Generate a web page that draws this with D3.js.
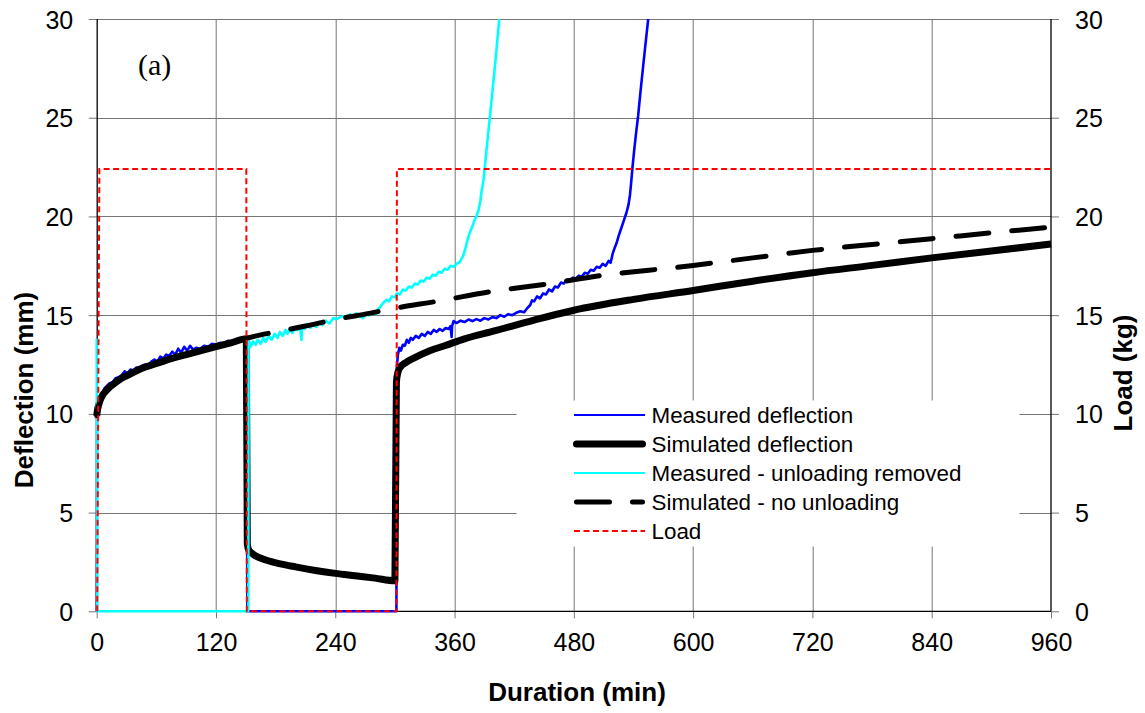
<!DOCTYPE html>
<html>
<head>
<meta charset="utf-8">
<script src="https://cdn.jsdelivr.net/npm/d3@7"></script>
<style>
  html, body { margin: 0; padding: 0; background: #fff; }
  svg { display: block; font-family: "Liberation Sans", Arial, sans-serif; }
</style>
</head>
<body>
<div id="chart"></div>
<script>
// Tick values
const X_TICKS = [0, 120, 240, 360, 480, 600, 720, 840, 960]
const Y_TICKS = [0, 5, 10, 15, 20, 25, 30]

// [duration (min), deflection (mm)]
const measuredDeflection = [
  [0, 0], [0.3, 10.3], [2, 10.6], [4, 10.9], [6, 11.1], [8, 11.3], [10, 11.4], [13, 11.55],
  [16, 11.6], [19, 11.8], [22, 11.85], [25, 11.95], [28, 12.15], [31, 12.05], [34, 12.25],
  [37, 12.2], [40, 12.35], [43, 12.3], [46, 12.45], [49, 12.5], [52, 12.45], [55, 12.65],
  [58, 12.75], [61, 12.65], [64, 12.9], [67, 12.8], [70, 13.0], [73, 12.95], [76, 13.15],
  [79, 13.0], [82, 13.3], [85, 13.1], [88, 13.4], [91, 13.2], [94, 13.45], [97, 13.25],
  [100, 13.35], [104, 13.3], [108, 13.45], [112, 13.4], [116, 13.55], [120, 13.5],
  [124, 13.6], [128, 13.55], [132, 13.7], [136, 13.65], [140, 13.75], [144, 13.7],
  [148, 13.85], [151, 13.8], [151.5, 0], [301.5, 0],
  [302, 12.4], [303, 13.0], [304.5, 13.35], [306, 13.2], [308, 13.5], [310, 13.45],
  [312, 13.75], [314, 13.6], [316, 13.85], [318, 13.75], [321, 13.95], [324, 13.85],
  [327, 14.05], [330, 13.95], [333, 14.15], [336, 14.05], [339, 14.25], [342, 14.15],
  [345, 14.3], [348, 14.2], [351, 14.35], [354, 14.3], [356, 14.45], [357, 13.9],
  [357.5, 14.45], [359, 14.7], [362, 14.6], [366, 14.72], [370, 14.65], [374, 14.78],
  [378, 14.7], [382, 14.8], [386, 14.72], [390, 14.85], [394, 14.78], [398, 14.9],
  [402, 14.85], [406, 15.0], [410, 14.92], [414, 15.05], [418, 15.0], [422, 15.12],
  [426, 15.2], [430, 15.15], [433, 15.35], [436, 15.5], [438, 15.75], [440, 15.7],
  [443, 15.95], [446, 15.85], [449, 16.1], [452, 16.05], [455, 16.3], [458, 16.2],
  [461, 16.45], [464, 16.4], [467, 16.65], [470, 16.6], [473, 16.8], [476, 16.75],
  [479, 16.9], [482, 16.85], [485, 17.0], [488, 16.95], [491, 17.15], [494, 17.1],
  [497, 17.3], [500, 17.25], [503, 17.45], [506, 17.4], [509, 17.6], [512, 17.5],
  [515, 17.75], [517, 17.65], [519, 18.1], [521, 18.4], [523, 18.65], [525, 19.0],
  [527, 19.3], [529, 19.6], [531, 19.9], [533, 20.2], [535, 20.6], [536.5, 21.1],
  [538, 21.9], [539, 22.5], [541, 23.5], [543, 24.4], [544.7, 25.1], [547, 26.3],
  [549.7, 27.6], [552, 28.7], [554.8, 30]
]

const simulatedDeflection = [
  [0, 9.9], [1, 10.25], [2, 10.45], [4, 10.75], [6, 10.95], [9, 11.15], [13, 11.35],
  [18, 11.55], [25, 11.8], [35, 12.05], [45, 12.3], [60, 12.55], [75, 12.8], [90, 13.0],
  [105, 13.2], [120, 13.4], [135, 13.6], [150.5, 13.8], [151.5, 3.4], [153, 3.1],
  [156, 2.95], [160, 2.8], [170, 2.6], [185, 2.4], [200, 2.25], [220, 2.07], [240, 1.92],
  [260, 1.8], [280, 1.68], [300, 1.55], [301.5, 11.6], [303, 12.1], [306, 12.4],
  [311, 12.6], [320, 12.85], [335, 13.2], [350, 13.45], [370, 13.8], [400, 14.2],
  [440, 14.75], [480, 15.25], [540, 15.8], [600, 16.25], [660, 16.72], [720, 17.15],
  [780, 17.52], [840, 17.9], [900, 18.25], [960, 18.6]
]

const measuredNoUnloading = [
  [0, 13.8], [0.6, 0], [152.5, 0], [152.8, 13.75], [155, 13.4], [157.5, 13.67], [160, 13.5],
  [162, 13.75], [165, 13.55], [167.6, 13.85], [170, 13.65], [173, 13.95], [176, 13.75],
  [179, 14.05], [182, 13.85], [184.3, 14.15], [187, 13.95], [190, 14.25], [192, 14.05],
  [194.4, 14.3], [197, 14.1], [200, 14.4], [202, 14.25], [204.5, 14.45], [206, 13.75],
  [206.5, 14.4], [209, 14.3], [212, 14.55], [215, 14.35], [217.8, 14.55], [221, 14.4],
  [224, 14.65], [227, 14.5], [230, 14.72], [234, 14.58], [238, 14.85], [241.4, 14.8],
  [245, 14.9], [248, 14.95], [251.4, 14.85], [255, 15.05], [258, 14.9], [261.5, 15.1],
  [265, 14.95], [268, 14.85], [271, 15.1], [274, 14.98], [278, 15.15], [281, 15.05],
  [283, 15.3], [285, 15.4], [288, 15.6], [291.7, 15.78], [294, 15.7], [297, 15.95],
  [300, 15.9], [302, 16.1], [305, 16.05], [308, 16.3], [311, 16.25], [314, 16.45],
  [317, 16.4], [320, 16.6], [323, 16.55], [326, 16.75], [329, 16.7], [332, 16.9],
  [335, 16.85], [338, 17.05], [341, 17.0], [344, 17.2], [347, 17.15], [350, 17.35],
  [353, 17.3], [356, 17.5], [359, 17.45], [362, 17.6], [365.4, 17.7], [367, 17.85],
  [368.7, 18.0], [371, 18.4], [373, 18.8], [375.5, 19.2], [378, 19.5], [380, 19.8],
  [382, 20.0], [384, 20.3], [386, 20.8], [387, 21.2], [389, 21.8], [390.5, 22.5],
  [392, 23.3], [394, 24.3], [395.5, 25.0], [398, 26.3], [400.6, 27.6], [403, 28.9],
  [405, 30]
]

const simulatedNoUnloading = [
  [0, 9.9], [1, 10.25], [2, 10.45], [4, 10.75], [6, 10.95], [9, 11.15], [13, 11.35],
  [18, 11.55], [25, 11.8], [35, 12.05], [45, 12.3], [60, 12.55], [75, 12.8], [90, 13.0],
  [105, 13.2], [120, 13.4], [135, 13.6], [150, 13.82], [165, 14.0], [180, 14.15],
  [210, 14.45], [240, 14.78], [270, 15.05], [300, 15.35], [342, 15.7], [398, 16.2],
  [456, 16.6], [513, 17.05], [553, 17.26], [600, 17.52], [660, 17.9], [720, 18.28],
  [780, 18.58], [840, 18.87], [900, 19.17], [960, 19.46]
]

// [duration (min), load (kg)]
const load = [
  [0.5, 0], [2.7, 22.4], [150.5, 22.4], [151, 0], [301.5, 0], [302, 22.4], [960, 22.4]
]

const LEGEND = [
  { name: "Measured deflection", color: "#0000ff", width: 2.2 },
  { name: "Simulated deflection", color: "#000", width: 7, cap: "round" },
  { name: "Measured - unloading removed", color: "#00ffff", width: 2.2 },
  { name: "Simulated - no unloading", color: "#000", width: 5, dash: "33,23", cap: "round" },
  { name: "Load", color: "#ff0000", width: 2, dash: "6,3.5" }
]

const W = 1145, H = 713
const margin = { top: 19, right: 94, bottom: 101.7, left: 96.7 }
const innerW = W - margin.left - margin.right
const innerH = H - margin.top - margin.bottom

const svg = d3.select("#chart").append("svg")
  .attr("width", W)
  .attr("height", H)

const x = d3.scaleLinear().domain([0, 960]).range([0, innerW])
const y = d3.scaleLinear().domain([0, 30]).range([innerH, 0])

const g = svg.append("g").attr("transform", `translate(${margin.left},${margin.top})`)

svg.append("defs").append("clipPath").attr("id", "plot-clip")
  .append("rect").attr("x", -4).attr("y", 0).attr("width", innerW + 8).attr("height", innerH + 4)

// Gridlines
const GRID = "#767676"
g.append("g")
  .selectAll("line")
  .data(X_TICKS.filter(d => d > 0 && d < 960))
  .join("line")
  .attr("x1", d => Math.round(x(d)) + 0.5).attr("x2", d => Math.round(x(d)) + 0.5)
  .attr("y1", 0).attr("y2", innerH)
  .attr("stroke", GRID).attr("stroke-width", 1)

g.append("g")
  .selectAll("line")
  .data(Y_TICKS.filter(d => d > 0))
  .join("line")
  .attr("x1", 0).attr("x2", innerW)
  .attr("y1", d => Math.round(y(d)) + 0.5).attr("y2", d => Math.round(y(d)) + 0.5)
  .attr("stroke", GRID).attr("stroke-width", 1)

// Axes
const styleAxis = (sel) => {
  sel.select(".domain").remove()
  sel.selectAll(".tick line").attr("stroke", GRID)
  sel.selectAll(".tick text")
    .attr("fill", "#000")
    .style("font-size", "25px")
    .style("font-family", "'Liberation Sans', Arial, sans-serif")
}

g.append("g")
  .attr("transform", `translate(0,${innerH})`)
  .call(d3.axisBottom(x).tickValues(X_TICKS).tickSize(7).tickSizeOuter(0).tickPadding(15))
  .call(styleAxis)

g.append("g")
  .call(d3.axisLeft(y).tickValues(Y_TICKS).tickSize(8).tickSizeOuter(0).tickPadding(15.5))
  .call(styleAxis)
  .selectAll(".tick text").attr("dy", "0.36em")

g.append("g")
  .attr("transform", `translate(${innerW},0)`)
  .call(d3.axisRight(y).tickValues(Y_TICKS).tickSize(8).tickSizeOuter(0).tickPadding(16))
  .call(styleAxis)
  .selectAll(".tick text").attr("dy", "0.36em")

// Axis lines (left, right, bottom black)
g.append("line").attr("x1", 0.5).attr("x2", 0.5).attr("y1", 0).attr("y2", innerH)
  .attr("stroke", "#000").attr("stroke-width", 1.3)
g.append("line").attr("x1", innerW).attr("x2", innerW).attr("y1", 0).attr("y2", innerH)
  .attr("stroke", "#000").attr("stroke-width", 1.3)
g.append("line").attr("x1", 0).attr("x2", innerW).attr("y1", innerH).attr("y2", innerH)
  .attr("stroke", "#000").attr("stroke-width", 1.3)

// Series
const lineLinear = d3.line().x(d => x(d[0])).y(d => y(d[1]))
const lineSmooth = d3.line().x(d => x(d[0])).y(d => y(d[1])).curve(d3.curveMonotoneX)

const plot = g.append("g").attr("clip-path", "url(#plot-clip)")

plot.append("path").datum(measuredDeflection)
  .attr("d", lineLinear).attr("fill", "none")
  .attr("stroke", LEGEND[0].color).attr("stroke-width", 2.6)
  .attr("stroke-linejoin", "round")

plot.append("path").datum(simulatedDeflection)
  .attr("d", lineSmooth).attr("fill", "none")
  .attr("stroke", LEGEND[1].color).attr("stroke-width", LEGEND[1].width)
  .attr("stroke-linejoin", "round")

plot.append("path").datum(measuredNoUnloading)
  .attr("d", lineLinear).attr("fill", "none")
  .attr("stroke", LEGEND[2].color).attr("stroke-width", 2.6)
  .attr("stroke-linejoin", "round")

plot.append("path").datum(simulatedNoUnloading)
  .attr("d", lineSmooth).attr("fill", "none")
  .attr("stroke", LEGEND[3].color).attr("stroke-width", LEGEND[3].width)
  .attr("stroke-dasharray", LEGEND[3].dash)
  .attr("stroke-linecap", "round")

plot.append("path").datum(load)
  .attr("d", lineLinear).attr("fill", "none")
  .attr("stroke", LEGEND[4].color).attr("stroke-width", LEGEND[4].width)
  .attr("stroke-dasharray", LEGEND[4].dash)

// Panel tag
svg.append("text")
  .attr("x", 138).attr("y", 75)
  .style("font-family", "'Liberation Serif', 'Times New Roman', serif")
  .style("font-size", "30px")
  .text("(a)")

// Axis titles
svg.append("text")
  .attr("x", 577).attr("y", 701)
  .attr("text-anchor", "middle")
  .style("font-size", "26px").style("font-weight", "bold")
  .text("Duration (min)")

svg.append("text")
  .attr("transform", "translate(33,390) rotate(-90)")
  .attr("text-anchor", "middle")
  .style("font-size", "26px").style("font-weight", "bold")
  .text("Deflection (mm)")

svg.append("text")
  .attr("transform", "translate(1132,373) rotate(-90)")
  .attr("text-anchor", "middle")
  .style("font-size", "26px").style("font-weight", "bold")
  .text("Load (kg)")

// Legend
const legend = svg.append("g")
legend.append("rect")
  .attr("x", 516.5).attr("y", 400.5).attr("width", 503).attr("height", 146)
  .attr("fill", "#fff")

const rowY = d3.scalePoint().domain(LEGEND.map(d => d.name)).range([415, 531])

const rows = legend.selectAll("g.row")
  .data(LEGEND)
  .join("g")
  .attr("class", "row")
  .attr("transform", d => `translate(0,${rowY(d.name)})`)

rows.append("line")
  .attr("x1", d => d.cap ? 576.5 : 574).attr("x2", d => d.cap ? 642.5 : 645)
  .attr("y1", 0).attr("y2", 0)
  .attr("stroke", d => d.color)
  .attr("stroke-width", d => d.width)
  .attr("stroke-dasharray", d => d.dash || null)
  .attr("stroke-linecap", d => d.cap || "butt")

rows.append("text")
  .attr("x", 651.5).attr("dy", "0.36em")
  .style("font-size", "22.4px")
  .text(d => d.name)
</script>
</body>
</html>
